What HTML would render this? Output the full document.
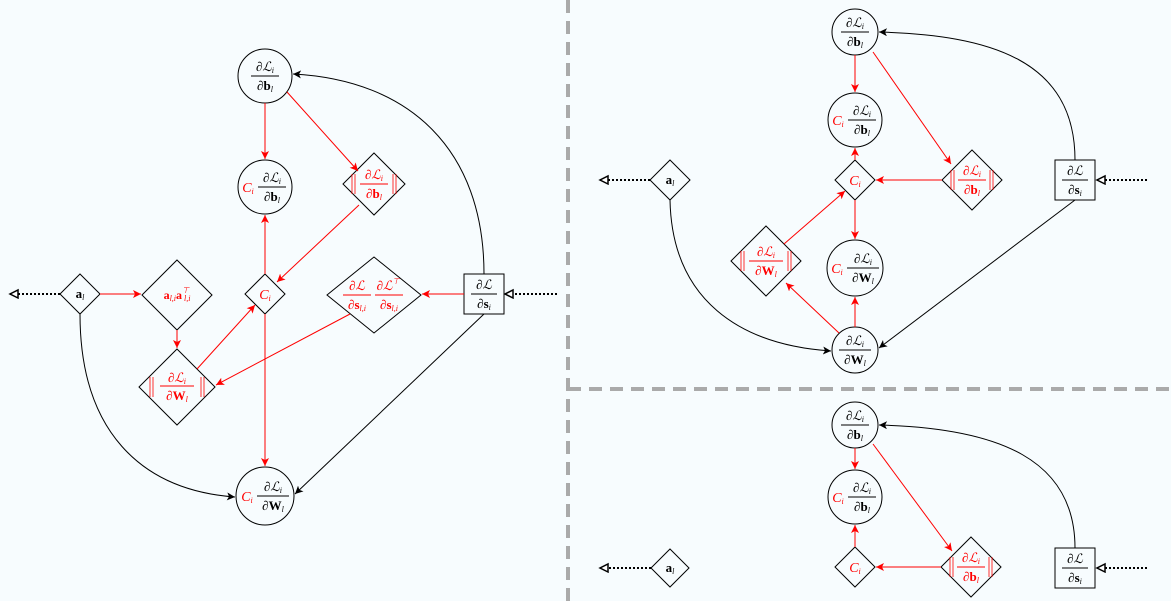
<!DOCTYPE html>
<html><head><meta charset="utf-8"><style>
html,body{margin:0;padding:0;background:#f7fcfe;}
svg{display:block;font-family:"Liberation Serif",serif;font-size:13px;}
.k{stroke:#000;fill:none;stroke-width:1;}
.r{stroke:#f00;fill:none;stroke-width:1;}
.n{stroke:#000;fill:none;stroke-width:1;}
.t{text-anchor:middle;fill:#000;}
.tr{text-anchor:middle;fill:#f00;}
.s{font-size:8px;font-style:italic;}
.i{font-style:italic;}
.b{font-weight:bold;}
.nb{stroke:#f00;stroke-width:0.8;}
</style></head><body>
<svg width="1171" height="601" viewBox="0 0 1171 601">
<defs>
<marker id="ak" markerWidth="10" markerHeight="10" refX="8" refY="4" orient="auto" markerUnits="userSpaceOnUse"><path d="M0,0 L8,4 L0,8 L2,4z" fill="#000"/></marker>
<marker id="ar" markerWidth="10" markerHeight="10" refX="8" refY="4" orient="auto" markerUnits="userSpaceOnUse"><path d="M0,0 L8,4 L0,8 L2,4z" fill="#f00"/></marker>
<marker id="ao" markerWidth="12" markerHeight="12" refX="9" refY="5" orient="auto" markerUnits="userSpaceOnUse"><path d="M1,1 L9,5 L1,9z" fill="#fff" stroke="#000" stroke-width="1.5"/></marker>
</defs>

<!-- separators -->
<line x1="568" y1="0" x2="568" y2="601" stroke="#aaa" stroke-width="4" stroke-dasharray="13,8"/>
<line x1="568" y1="389" x2="1171" y2="389" stroke="#aaa" stroke-width="4" stroke-dasharray="13,8"/>

<!-- ============ LEFT PANEL ============ -->
<line x1="60" y1="294" x2="10" y2="294" stroke="#000" stroke-width="2" stroke-dasharray="2,2" marker-end="url(#ao)"/>
<line x1="557" y1="294" x2="505" y2="294" stroke="#000" stroke-width="2" stroke-dasharray="2,2" marker-end="url(#ao)"/>

<polygon class="n" points="80,274 100,294 80,314 60,294"/>
<text class="t" x="80" y="298"><tspan class="b">a</tspan><tspan class="s" dy="2">l</tspan></text>

<polygon class="n" points="177,260 212,295 177,330 142,295"/>
<text class="tr" x="177" y="299" font-size="12"><tspan class="b">a</tspan><tspan class="s" dy="2">l,i</tspan><tspan class="b" dy="-2">a</tspan><tspan class="s" dy="-6">⊤</tspan><tspan class="s" dx="-5" dy="8">l,i</tspan></text>

<polygon class="n" points="177,349 215,387 177,425 139,387"/>
<path class="nb" d="M150,377V397M153,377V397M201,377V397M204,377V397"/>
<text class="tr" x="177" y="382">∂<tspan class="i">ℒ</tspan><tspan class="s" dy="2">i</tspan></text>
<line x1="160" y1="386" x2="194" y2="386" stroke="#f00"/>
<text class="tr" x="177" y="400">∂<tspan class="b">W</tspan><tspan class="s" dy="2">l</tspan></text>

<polygon class="n" points="265,274 285,294 265,314 245,294"/>
<text class="tr i" x="265" y="299" font-size="14">C<tspan class="s" dy="2">i</tspan></text>

<circle class="n" cx="265" cy="76" r="27"/>
<text class="t" x="265" y="71">∂<tspan class="i">ℒ</tspan><tspan class="s" dy="2">i</tspan></text>
<line x1="251" y1="76" x2="279" y2="76" stroke="#000"/>
<text class="t" x="265" y="90">∂<tspan class="b">b</tspan><tspan class="s" dy="2">l</tspan></text>

<circle class="n" cx="265" cy="187" r="27"/>
<text class="tr i" x="248" y="192" font-size="14">C<tspan class="s" dy="2">i</tspan></text>
<text class="t" x="272" y="182">∂<tspan class="i">ℒ</tspan><tspan class="s" dy="2">i</tspan></text>
<line x1="258" y1="187" x2="286" y2="187" stroke="#000"/>
<text class="t" x="272" y="201">∂<tspan class="b">b</tspan><tspan class="s" dy="2">l</tspan></text>

<polygon class="n" points="374,153 405,184 374,215 343,184"/>
<path class="nb" d="M352,174V194M355,174V194M393,174V194M396,174V194"/>
<text class="tr" x="374" y="179">∂<tspan class="i">ℒ</tspan><tspan class="s" dy="2">i</tspan></text>
<line x1="360" y1="184" x2="388" y2="184" stroke="#f00"/>
<text class="tr" x="374" y="198">∂<tspan class="b">b</tspan><tspan class="s" dy="2">l</tspan></text>

<polygon class="n" points="374,257 421,295 374,333 327,295"/>
<text class="tr" x="357" y="290">∂<tspan class="i">ℒ</tspan></text>
<line x1="343" y1="295" x2="371" y2="295" stroke="#f00"/>
<text class="tr" x="357" y="309">∂<tspan class="b">s</tspan><tspan class="s" dy="2">l,i</tspan></text>
<text class="tr" x="388" y="290">∂<tspan class="i">ℒ</tspan><tspan class="s" dy="-6">⊤</tspan></text>
<line x1="375" y1="295" x2="403" y2="295" stroke="#f00"/>
<text class="tr" x="389" y="309">∂<tspan class="b">s</tspan><tspan class="s" dy="2">l,i</tspan></text>

<rect class="n" x="464" y="274" width="40" height="40"/>
<text class="t" x="484" y="289">∂<tspan class="i">ℒ</tspan></text>
<line x1="471" y1="294" x2="497" y2="294" stroke="#000"/>
<text class="t" x="484" y="308">∂<tspan class="b">s</tspan><tspan class="s" dy="2">i</tspan></text>

<circle class="n" cx="265" cy="496" r="29"/>
<text class="tr i" x="247" y="501" font-size="14">C<tspan class="s" dy="2">i</tspan></text>
<text class="t" x="273" y="491">∂<tspan class="i">ℒ</tspan><tspan class="s" dy="2">i</tspan></text>
<line x1="257" y1="496" x2="289" y2="496" stroke="#000"/>
<text class="t" x="273" y="510">∂<tspan class="b">W</tspan><tspan class="s" dy="2">l</tspan></text>

<!-- left edges -->
<line class="r" x1="100" y1="294" x2="141" y2="294" marker-end="url(#ar)"/>
<line class="r" x1="177" y1="330" x2="177" y2="348" marker-end="url(#ar)"/>
<line class="r" x1="265" y1="103" x2="265" y2="159" marker-end="url(#ar)"/>
<line class="r" x1="287" y1="92" x2="358" y2="171" marker-end="url(#ar)"/>
<line class="r" x1="359" y1="205" x2="277" y2="282" marker-end="url(#ar)"/>
<line class="r" x1="265" y1="274" x2="265" y2="215" marker-end="url(#ar)"/>
<line class="r" x1="265" y1="314" x2="265" y2="466" marker-end="url(#ar)"/>
<line class="r" x1="197" y1="369" x2="255" y2="305" marker-end="url(#ar)"/>
<line class="r" x1="350" y1="314" x2="216" y2="385" marker-end="url(#ar)"/>
<line class="r" x1="464" y1="294" x2="422" y2="294" marker-end="url(#ar)"/>
<path class="k" d="M484,274 C484,150 410,80 293,74" marker-end="url(#ak)"/>
<line class="k" x1="484" y1="314" x2="295" y2="494" marker-end="url(#ak)"/>
<path class="k" d="M80,314 C80,430 140,490 235,497" marker-end="url(#ak)"/>

<!-- ============ RIGHT TOP PANEL ============ -->
<line x1="650" y1="180" x2="600" y2="180" stroke="#000" stroke-width="2" stroke-dasharray="2,2" marker-end="url(#ao)"/>
<line x1="1147" y1="180" x2="1097" y2="180" stroke="#000" stroke-width="2" stroke-dasharray="2,2" marker-end="url(#ao)"/>

<polygon class="n" points="670,160 690,180 670,200 650,180"/>
<text class="t" x="670" y="184"><tspan class="b">a</tspan><tspan class="s" dy="2">l</tspan></text>

<circle class="n" cx="855" cy="32" r="23"/>
<text class="t" x="855" y="27">∂<tspan class="i">ℒ</tspan><tspan class="s" dy="2">i</tspan></text>
<line x1="841" y1="32" x2="869" y2="32" stroke="#000"/>
<text class="t" x="855" y="46">∂<tspan class="b">b</tspan><tspan class="s" dy="2">l</tspan></text>

<circle class="n" cx="855" cy="120" r="27"/>
<text class="tr i" x="838" y="125" font-size="14">C<tspan class="s" dy="2">i</tspan></text>
<text class="t" x="862" y="115">∂<tspan class="i">ℒ</tspan><tspan class="s" dy="2">i</tspan></text>
<line x1="848" y1="120" x2="876" y2="120" stroke="#000"/>
<text class="t" x="862" y="134">∂<tspan class="b">b</tspan><tspan class="s" dy="2">l</tspan></text>

<polygon class="n" points="855,160 875,180 855,200 835,180"/>
<text class="tr i" x="855" y="185" font-size="14">C<tspan class="s" dy="2">i</tspan></text>

<polygon class="n" points="972,150 1002,180 972,210 942,180"/>
<path class="nb" d="M951,170V190M954,170V190M990,170V190M993,170V190"/>
<text class="tr" x="972" y="175">∂<tspan class="i">ℒ</tspan><tspan class="s" dy="2">i</tspan></text>
<line x1="958" y1="180" x2="986" y2="180" stroke="#f00"/>
<text class="tr" x="972" y="194">∂<tspan class="b">b</tspan><tspan class="s" dy="2">l</tspan></text>

<polygon class="n" points="766,226 801,261 766,296 731,261"/>
<path class="nb" d="M741,251V271M744,251V271M788,251V271M791,251V271"/>
<text class="tr" x="766" y="256">∂<tspan class="i">ℒ</tspan><tspan class="s" dy="2">i</tspan></text>
<line x1="749" y1="261" x2="783" y2="261" stroke="#f00"/>
<text class="tr" x="766" y="275">∂<tspan class="b">W</tspan><tspan class="s" dy="2">l</tspan></text>

<circle class="n" cx="855" cy="268" r="28"/>
<text class="tr i" x="837" y="273" font-size="14">C<tspan class="s" dy="2">i</tspan></text>
<text class="t" x="863" y="263">∂<tspan class="i">ℒ</tspan><tspan class="s" dy="2">i</tspan></text>
<line x1="847" y1="268" x2="879" y2="268" stroke="#000"/>
<text class="t" x="863" y="282">∂<tspan class="b">W</tspan><tspan class="s" dy="2">l</tspan></text>

<circle class="n" cx="855" cy="350" r="23"/>
<text class="t" x="855" y="345">∂<tspan class="i">ℒ</tspan><tspan class="s" dy="2">i</tspan></text>
<line x1="839" y1="350" x2="871" y2="350" stroke="#000"/>
<text class="t" x="855" y="364">∂<tspan class="b">W</tspan><tspan class="s" dy="2">l</tspan></text>

<rect class="n" x="1055" y="160" width="40" height="40"/>
<text class="t" x="1075" y="175">∂<tspan class="i">ℒ</tspan></text>
<line x1="1062" y1="180" x2="1088" y2="180" stroke="#000"/>
<text class="t" x="1075" y="194">∂<tspan class="b">s</tspan><tspan class="s" dy="2">i</tspan></text>

<line class="r" x1="855" y1="55" x2="855" y2="92" marker-end="url(#ar)"/>
<line class="r" x1="873" y1="52" x2="951" y2="164" marker-end="url(#ar)"/>
<line class="r" x1="942" y1="180" x2="876" y2="180" marker-end="url(#ar)"/>
<line class="r" x1="855" y1="160" x2="855" y2="148" marker-end="url(#ar)"/>
<line class="r" x1="855" y1="200" x2="855" y2="239" marker-end="url(#ar)"/>
<line class="r" x1="855" y1="327" x2="855" y2="297" marker-end="url(#ar)"/>
<line class="r" x1="839" y1="333" x2="786" y2="283" marker-end="url(#ar)"/>
<line class="r" x1="784" y1="244" x2="845" y2="191" marker-end="url(#ar)"/>
<path class="k" d="M1075,160 C1075,60 990,35 879,32" marker-end="url(#ak)"/>
<line class="k" x1="1075" y1="200" x2="879" y2="348" marker-end="url(#ak)"/>
<path class="k" d="M670,200 C672,300 740,345 831,351" marker-end="url(#ak)"/>

<!-- ============ RIGHT BOTTOM PANEL ============ -->
<line x1="651" y1="568" x2="600" y2="568" stroke="#000" stroke-width="2" stroke-dasharray="2,2" marker-end="url(#ao)"/>
<line x1="1147" y1="568" x2="1097" y2="568" stroke="#000" stroke-width="2" stroke-dasharray="2,2" marker-end="url(#ao)"/>

<polygon class="n" points="670,549 689,568 670,587 651,568"/>
<text class="t" x="670" y="572"><tspan class="b">a</tspan><tspan class="s" dy="2">l</tspan></text>

<circle class="n" cx="855" cy="425" r="23"/>
<text class="t" x="855" y="420">∂<tspan class="i">ℒ</tspan><tspan class="s" dy="2">i</tspan></text>
<line x1="841" y1="425" x2="869" y2="425" stroke="#000"/>
<text class="t" x="855" y="439">∂<tspan class="b">b</tspan><tspan class="s" dy="2">l</tspan></text>

<circle class="n" cx="855" cy="497" r="27"/>
<text class="tr i" x="838" y="502" font-size="14">C<tspan class="s" dy="2">i</tspan></text>
<text class="t" x="862" y="492">∂<tspan class="i">ℒ</tspan><tspan class="s" dy="2">i</tspan></text>
<line x1="848" y1="497" x2="876" y2="497" stroke="#000"/>
<text class="t" x="862" y="511">∂<tspan class="b">b</tspan><tspan class="s" dy="2">l</tspan></text>

<polygon class="n" points="855,547 875,567 855,587 835,567"/>
<text class="tr i" x="855" y="572" font-size="14">C<tspan class="s" dy="2">i</tspan></text>

<polygon class="n" points="971,537 1001,567 971,597 941,567"/>
<path class="nb" d="M950,557V577M953,557V577M989,557V577M992,557V577"/>
<text class="tr" x="971" y="562">∂<tspan class="i">ℒ</tspan><tspan class="s" dy="2">i</tspan></text>
<line x1="957" y1="567" x2="985" y2="567" stroke="#f00"/>
<text class="tr" x="971" y="581">∂<tspan class="b">b</tspan><tspan class="s" dy="2">l</tspan></text>

<rect class="n" x="1055" y="548" width="40" height="40"/>
<text class="t" x="1075" y="563">∂<tspan class="i">ℒ</tspan></text>
<line x1="1062" y1="568" x2="1088" y2="568" stroke="#000"/>
<text class="t" x="1075" y="582">∂<tspan class="b">s</tspan><tspan class="s" dy="2">i</tspan></text>

<line class="r" x1="855" y1="448" x2="855" y2="469" marker-end="url(#ar)"/>
<line class="r" x1="855" y1="547" x2="855" y2="525" marker-end="url(#ar)"/>
<line class="r" x1="873" y1="444" x2="952" y2="551" marker-end="url(#ar)"/>
<line class="r" x1="941" y1="567" x2="876" y2="567" marker-end="url(#ar)"/>
<path class="k" d="M1075,548 C1075,460 1000,428 879,425" marker-end="url(#ak)"/>
</svg>
</body></html>
